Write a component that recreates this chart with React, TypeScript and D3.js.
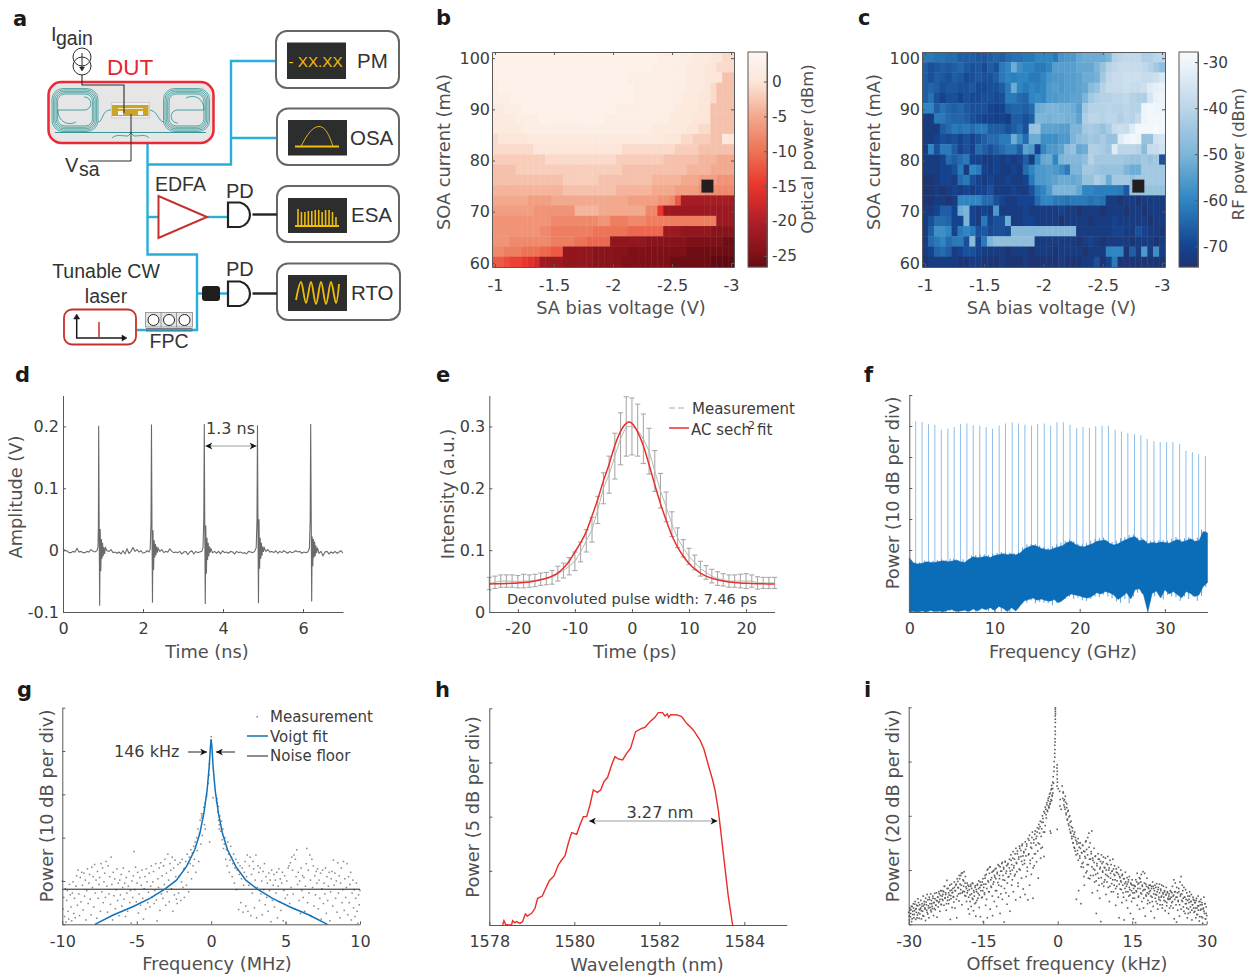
import React, { useEffect, useRef } from 'react';
import * as d3 from 'd3';

const WIDTH = 1251;
const HEIGHT = 976;
const FONT = '"DejaVu Sans", sans-serif';
const SCHEMATIC_FONT = '"Liberation Sans", Arial, sans-serif';

// panels b, c: rows run from 100 mA (top) down to 60 mA, columns from -1 V to -3 V
const saBias = [-1, -1.5, -2, -2.5, -3];
const soaCurrent = [60, 70, 80, 90, 100];
const opticalTicks = [0, -5, -10, -15, -20, -25];
const rfTicks = [-30, -40, -50, -60, -70];
const opticalStops = [4.24, 0, -5, -10, -15, -20, -25, -26.6];
const opticalColors = ['#fdf6f0', '#fce6da', '#f2a98d', '#ed7355', '#e9352c', '#b01f28', '#7e1018', '#640b12'];
const rfStops = [-27.8, -30, -40, -50, -60, -70, -74.5];
const rfColors = ['#f6fafc', '#eef5fa', '#bcd5e8', '#7db5d8', '#2f86c3', '#15438f', '#1f3370'];

const opticalPower = [
  [3,3,3,3,3,3,3,3,3,3,3,3,3,3,3,3,3,3,3,3,3,3,3,3,3,3,3,3,2,2,2,2,2,2,1,1,1,0,0,-1,-1],
  [3,3,3,3,3,3,3,3,3,3,3,3,3,3,3,3,3,3,3,3,3,3,3,3,3,3,3,2,2,2,2,2,2,1,1,1,0,0,-1,-1,-1],
  [3,3,3,3,3,3,3,3,3,3,3,3,3,3,3,3,3,3,3,3,3,3,3,2,2,2,2,2,2,2,2,2,2,1,1,1,0,0,0,-3,-3],
  [2,3,3,3,3,3,3,3,3,3,3,3,3,3,3,3,3,3,3,3,3,3,3,3,2,2,2,2,2,2,2,2,2,1,1,1,0,-1,-3,-3,-3],
  [2,2,2,3,3,3,3,3,3,3,3,3,3,3,3,3,3,3,3,3,3,3,3,3,2,2,2,2,2,2,2,2,1,1,1,0,0,-1,-3,-3,-3],
  [1,1,2,2,2,3,3,3,3,3,3,3,3,3,3,3,3,3,3,3,3,2,2,2,2,2,2,2,2,2,2,1,1,1,1,0,0,-3,-3,-3,-3],
  [1,1,1,1,2,2,2,2,3,3,3,3,3,3,3,3,3,3,3,2,2,2,2,2,2,2,2,2,2,2,1,1,1,1,0,0,0,-3,-3,-3,-3],
  [1,1,1,1,1,2,2,2,2,2,2,2,2,2,2,2,2,2,2,2,2,2,2,2,2,2,2,1,1,1,1,1,1,0,0,-1,-1,-3,-3,-3,-3],
  [-1,0,0,0,0,0,1,1,1,1,1,1,1,1,1,1,1,1,1,1,1,1,1,1,1,1,1,1,1,0,0,0,-1,-1,-2,-2,-2,-3,-3,1,0],
  [-1,-1,-1,-1,-1,-1,-1,0,0,0,0,0,0,0,0,0,0,0,0,0,0,0,-1,-1,-1,-1,-1,-1,-1,-1,-1,-2,-2,-2,-2,-3,-3,-3,-3,-3,-3],
  [-2,-2,-2,-2,-2,-2,-2,-2,-2,-1,-1,-1,-1,-1,-1,-1,-1,-1,-1,-1,-1,-2,-2,-2,-2,-2,-2,-2,-2,-3,-3,-3,-3,-3,-3,-4,-4,-4,-5,-5,-5],
  [-3,-3,-3,-3,-2,-2,-2,-2,-2,-2,-2,-2,-2,-2,-2,-2,-2,-2,-2,-2,-2,-2,-3,-3,-3,-3,-3,-3,-3,-3,-3,-3,-3,-4,-4,-4,-4,-5,-5,-5,-5],
  [-3,-3,-3,-3,-3,-3,-3,-3,-3,-3,-3,-3,-2,-2,-2,-2,-2,-2,-3,-3,-3,-3,-3,-3,-3,-3,-3,-4,-4,-4,-4,-4,-5,-5,-5,-6,-6,-6,-7,-7,-7],
  [-4,-4,-4,-4,-4,-4,-4,-4,-4,-4,-4,-4,-3,-3,-3,-3,-3,-3,-3,-3,-3,-4,-4,-4,-4,-4,-4,-5,-5,-5,-5,-6,-6,-6,-6,-7,-8,-8,-8,-8,-8],
  [-5,-5,-5,-5,-5,-5,-6,-6,-6,-6,-5,-5,-5,-5,-5,-5,-5,-5,-5,-5,-5,-5,-5,-6,-6,-6,-6,-6,-7,-7,-8,-12,-21,-21,-21,-21,-21,-21,-21,-21,-21],
  [-6,-6,-6,-6,-6,-6,-6,-7,-7,-7,-7,-7,-7,-7,-4,-4,-4,-4,-5,-5,-5,-5,-5,-5,-5,-5,-8,-8,-15,-22,-22,-22,-22,-22,-22,-22,-22,-22,-22,-22,-22],
  [-7,-7,-7,-7,-7,-7,-7,-7,-7,-7,-8,-8,-8,-8,-8,-8,-8,-8,-7,-7,-9,-9,-9,-8,-8,-8,-9,-9,-9,-9,-9,-9,-9,-9,-9,-9,-9,-9,-22,-22,-22],
  [-7,-7,-7,-7,-7,-7,-7,-7,-8,-8,-9,-9,-9,-9,-9,-9,-9,-10,-10,-10,-10,-10,-10,-11,-11,-11,-11,-11,-11,-22,-22,-22,-23,-23,-23,-23,-23,-24,-24,-24,-24],
  [-7,-7,-7,-8,-8,-8,-8,-8,-8,-8,-9,-9,-9,-9,-10,-10,-11,-11,-11,-11,-23,-23,-23,-23,-23,-23,-24,-24,-24,-24,-24,-24,-24,-25,-25,-25,-25,-25,-25,-26,-26],
  [-8,-8,-9,-9,-9,-10,-10,-10,-11,-11,-12,-12,-23,-23,-23,-23,-23,-24,-24,-24,-24,-24,-24,-25,-25,-25,-25,-25,-25,-25,-25,-25,-25,-26,-26,-26,-26,-26,-26,-26,-26],
  [-12,-12,-13,-14,-14,-15,-16,-17,-22,-22,-22,-22,-23,-23,-23,-23,-23,-24,-24,-24,-24,-24,-25,-25,-25,-25,-25,-25,-25,-25,-26,-26,-26,-26,-26,-26,-26,-27,-27,-27,-27],
];

const rfPower = [
  [-62,-62,-63,-63,-64,-64,-66,-66,-66,-67,-67,-66,-65,-66,-64,-63,-63,-62,-62,-60,-60,-60,-62,-57,-56,-56,-53,-52,-52,-52,-52,-50,-41,-40,-39,-39,-39,-42,-42,-40,-40],
  [-66,-68,-67,-66,-67,-66,-65,-67,-68,-67,-69,-66,-68,-62,-60,-52,-58,-60,-60,-62,-62,-60,-55,-55,-55,-55,-53,-53,-53,-50,-46,-41,-39,-38,-38,-38,-38,-39,-41,-44,-47],
  [-66,-68,-66,-67,-68,-66,-67,-69,-68,-67,-68,-68,-66,-62,-60,-61,-60,-60,-62,-62,-60,-57,-56,-56,-55,-55,-54,-52,-52,-51,-44,-39,-38,-38,-37,-37,-37,-38,-38,-37,-34],
  [-66,-65,-66,-68,-67,-67,-68,-68,-67,-69,-69,-68,-68,-66,-62,-52,-60,-62,-60,-61,-60,-56,-55,-56,-55,-55,-54,-53,-48,-46,-41,-38,-38,-38,-37,-38,-38,-37,-33,-32,-31],
  [-66,-63,-68,-70,-68,-68,-70,-68,-69,-69,-68,-68,-69,-68,-62,-62,-64,-65,-60,-59,-60,-56,-56,-55,-55,-54,-54,-50,-44,-42,-41,-41,-40,-40,-39,-41,-42,-42,-35,-31,-30],
  [-60,-60,-66,-63,-65,-66,-65,-67,-68,-68,-68,-70,-71,-70,-66,-65,-65,-66,-64,-52,-51,-50,-50,-51,-51,-52,-55,-44,-41,-41,-41,-40,-41,-41,-40,-41,-41,-30,-29,-30,-30],
  [-71,-72,-62,-62,-64,-65,-65,-66,-68,-69,-70,-70,-71,-70,-72,-66,-66,-68,-66,-50,-50,-51,-50,-50,-51,-51,-54,-42,-40,-40,-41,-40,-40,-42,-40,-41,-38,-30,-29,-29,-29],
  [-72,-72,-72,-66,-64,-62,-63,-62,-64,-62,-62,-66,-66,-66,-68,-66,-64,-68,-46,-45,-54,-54,-54,-55,-55,-50,-50,-44,-43,-44,-46,-43,-38,-37,-38,-33,-29,-29,-29,-28,-29],
  [-72,-72,-70,-68,-69,-68,-70,-68,-70,-68,-66,-64,-64,-62,-62,-52,-58,-64,-52,-52,-58,-58,-58,-56,-56,-50,-47,-46,-44,-45,-43,-46,-46,-33,-30,-29,-30,-46,-46,-36,-35],
  [-72,-60,-68,-62,-62,-66,-70,-68,-70,-64,-66,-68,-66,-64,-62,-62,-66,-54,-56,-70,-60,-56,-56,-54,-48,-46,-53,-52,-42,-42,-43,-45,-33,-40,-40,-40,-41,-48,-38,-38,-36],
  [-72,-72,-72,-70,-64,-66,-64,-62,-70,-70,-72,-72,-70,-72,-70,-72,-70,-66,-72,-60,-53,-52,-60,-50,-49,-49,-49,-47,-41,-44,-44,-44,-44,-44,-45,-46,-46,-44,-46,-44,-68],
  [-72,-72,-72,-70,-70,-68,-62,-72,-60,-62,-70,-72,-70,-72,-72,-70,-72,-64,-60,-56,-56,-55,-56,-58,-62,-50,-50,-44,-44,-45,-46,-46,-46,-46,-50,-52,-52,-44,-44,-44,-44],
  [-74,-74,-72,-70,-70,-72,-64,-62,-68,-70,-72,-70,-72,-72,-70,-72,-72,-70,-62,-56,-56,-55,-54,-52,-52,-53,-52,-46,-46,-42,-44,-52,-44,-44,-44,-46,-44,-44,-44,-44,-44],
  [-74,-74,-72,-74,-72,-70,-72,-70,-72,-70,-70,-68,-72,-72,-72,-70,-72,-72,-68,-62,-60,-56,-50,-50,-50,-50,-53,-60,-60,-61,-61,-61,-61,-62,-67,-46,-46,-46,-46,-46,-46],
  [-74,-74,-72,-72,-74,-72,-60,-60,-60,-60,-64,-64,-68,-70,-72,-72,-70,-70,-70,-64,-60,-60,-62,-62,-63,-62,-62,-62,-63,-62,-63,-72,-72,-74,-72,-72,-74,-72,-72,-72,-72],
  [-72,-72,-70,-66,-66,-70,-52,-50,-70,-72,-70,-72,-56,-72,-72,-72,-72,-70,-72,-72,-72,-72,-72,-70,-72,-72,-74,-72,-72,-72,-74,-72,-72,-72,-74,-72,-72,-74,-72,-72,-72],
  [-72,-68,-64,-64,-65,-70,-70,-50,-70,-72,-62,-70,-68,-68,-52,-72,-72,-70,-70,-72,-72,-72,-72,-74,-72,-72,-72,-72,-74,-72,-72,-72,-70,-72,-72,-72,-72,-72,-74,-72,-72],
  [-72,-66,-58,-58,-60,-70,-62,-60,-62,-68,-67,-69,-68,-68,-69,-49,-49,-49,-49,-49,-49,-49,-49,-49,-49,-49,-72,-72,-72,-72,-72,-72,-70,-70,-72,-72,-68,-70,-72,-72,-74],
  [-72,-64,-62,-60,-64,-62,-62,-68,-48,-70,-62,-50,-47,-47,-47,-47,-47,-47,-47,-72,-72,-72,-72,-72,-72,-72,-74,-72,-70,-72,-74,-72,-72,-72,-72,-74,-72,-72,-72,-74,-72],
  [-72,-70,-65,-64,-66,-72,-70,-68,-68,-70,-72,-72,-72,-72,-74,-72,-72,-72,-74,-72,-72,-72,-74,-72,-72,-72,-72,-74,-72,-72,-72,-60,-60,-60,-74,-66,-72,-56,-72,-58,-72],
  [-74,-72,-72,-72,-72,-72,-74,-74,-72,-72,-74,-74,-74,-72,-74,-74,-74,-72,-74,-74,-74,-74,-74,-72,-74,-74,-74,-72,-72,-68,-74,-70,-62,-74,-74,-74,-74,-74,-74,-74,-74],
];

// panel d: oscilloscope trace [ns, V]
const scopeTrace = [
  [0,.003],[.05,-.001],[.1,-.001],[.15,-.004],[.2,-.004],[.25,-.002],[.3,-.003],[.35,.003],[.4,-.003],[.45,-.002],[.5,-.004],[.55,-.004],[.6,-.002],[.65,-.003],[.7,.001],[.75,-.002],[.8,-.003],[.85,-.001],
  [.875,.006],[.885,.04],[.892,.201],[.905,.03],[.917,-.09],[.93,.034],[.945,-.034],[.96,.018],[.975,-.014],[.99,.012],[1.005,-.01],[1.02,.005],[1.04,-.006],[1.06,.004],
  [1.1,-.001],[1.15,-.002],[1.2,.001],[1.25,-.004],[1.3,-.003],[1.35,-.005],[1.4,-.003],[1.45,-.006],[1.5,-.001],[1.55,-.006],[1.6,.002],[1.65,-.005],[1.7,-.002],[1.75,.004],[1.8,-.002],[1.85,.001],[1.9,-.003],[1.95,-.001],[2.0,-.005],[2.05,-.004],[2.1,-.001],[2.15,-.003],[2.18,.002],
  [2.2,.045],[2.212,.203],[2.225,.03],[2.237,-.085],[2.25,.032],[2.265,-.032],[2.28,.016],[2.295,-.012],[2.31,.01],[2.325,-.008],[2.34,.006],[2.36,-.004],[2.38,.003],
  [2.42,-.002],[2.47,.001],[2.52,-.004],[2.57,-.002],[2.62,-.003],[2.67,.002],[2.72,-.002],[2.77,-.004],[2.82,-.003],[2.87,-.004],[2.92,-.002],[2.97,-.006],[3.02,-.003],[3.07,-.002],[3.12,-.007],[3.17,-.003],[3.22,-.001],[3.27,-.006],[3.32,-.002],[3.37,-.004],[3.42,-.003],[3.47,-.002],[3.5,.004],
  [3.52,.05],[3.532,.204],[3.545,.03],[3.557,-.087],[3.57,.04],[3.585,-.038],[3.6,.02],[3.615,-.016],[3.63,.012],[3.645,-.01],[3.66,.006],[3.68,-.004],[3.7,.002],
  [3.74,-.004],[3.79,-.002],[3.84,-.005],[3.89,-.002],[3.94,-.006],[3.99,-.001],[4.04,-.004],[4.09,-.003],[4.14,-.005],[4.19,-.002],[4.24,-.003],[4.29,-.006],[4.34,-.002],[4.39,-.004],[4.44,-.003],[4.49,-.005],[4.54,-.004],[4.59,-.006],[4.64,-.002],[4.69,-.003],[4.74,-.004],[4.79,-.002],[4.83,.004],
  [4.85,.05],[4.862,.202],[4.875,.03],[4.887,-.086],[4.9,.05],[4.915,-.03],[4.93,.02],[4.945,-.014],[4.96,.012],[4.975,-.009],[4.99,.006],[5.01,-.003],[5.03,.004],
  [5.07,-.002],[5.12,.001],[5.17,-.003],[5.22,-.002],[5.27,-.004],[5.32,-.001],[5.37,-.005],[5.42,-.002],[5.47,-.004],[5.52,-.001],[5.57,-.003],[5.62,-.005],[5.67,-.002],[5.72,-.004],[5.77,-.003],[5.82,-.001],[5.87,-.003],[5.92,-.002],[5.97,-.005],[6.02,-.003],[6.07,-.004],[6.12,-.003],[6.16,.003],
  [6.18,.05],[6.192,.204],[6.205,.06],[6.217,-.083],[6.23,.022],[6.245,-.026],[6.26,.018],[6.275,-.012],[6.29,.014],[6.305,-.01],[6.32,.008],[6.34,-.005],[6.36,.004],
  [6.4,-.005],[6.45,-.002],[6.5,-.009],[6.55,-.003],[6.6,-.002],[6.65,-.006],[6.7,-.003],[6.75,-.005],[6.8,-.002],[6.85,-.005],[6.9,-.003],[6.95,-.001],[7,-.005],
];

// panel e: autocorrelation, one value per ps from -25 to 25
const acDelay = [-25,-24,-23,-22,-21,-20,-19,-18,-17,-16,-15,-14,-13,-12,-11,-10,-9,-8,-7,-6,-5,-4,-3,-2,-1,0,1,2,3,4,5,6,7,8,9,10,11,12,13,14,15,16,17,18,19,20,21,22,23,24,25];
const acMean = [.046,.048,.05,.05,.05,.049,.05,.05,.051,.053,.054,.056,.062,.067,.074,.082,.097,.115,.133,.165,.2,.222,.252,.28,.3,.3,.294,.28,.26,.228,.196,.17,.142,.12,.103,.09,.08,.07,.064,.058,.054,.052,.05,.05,.05,.05,.05,.047,.047,.047,.047];
const acError = [.01,.01,.01,.01,.01,.01,.011,.01,.01,.01,.01,.011,.012,.012,.014,.015,.016,.018,.02,.022,.025,.03,.037,.042,.048,.046,.042,.04,.037,.033,.028,.024,.02,.016,.014,.013,.012,.012,.011,.011,.011,.01,.01,.01,.011,.012,.01,.01,.009,.009,.009];
const fitDelay = [-25,-24,-23,-22,-21,-20,-19,-18,-17,-16,-15,-14,-13,-12,-11,-10,-9,-8,-7,-6,-5,-4,-3,-2,-1,-.5,0,1,2,3,4,5,6,7,8,9,10,11,12,13,14,15,16,17,18,19,20,21,22,23,24,25];
const fitIntensity = [.0454,.0455,.0457,.046,.0464,.0469,.0476,.0486,.05,.052,.0546,.0581,.063,.071,.082,.097,.112,.13,.155,.182,.212,.239,.269,.292,.305,.307,.305,.2913,.2688,.2381,.2056,.1752,.1482,.1236,.1047,.0901,.0785,.0696,.063,.0581,.0546,.052,.05,.0486,.0476,.0469,.0464,.046,.0457,.0455,.0454,.0453];

// panel f: RF comb lines and the noise band, in divisions
const combFreq = [.75,1.5,2.26,3.0,3.75,4.53,5.27,6.02,6.76,7.5,8.27,9.02,9.76,10.55,11.29,12.08,12.82,13.57,14.35,15.06,15.84,16.59,17.33,18.08,18.86,19.65,20.39,21.14,21.88,22.63,23.37,24.16,24.9,25.65,26.43,27.18,27.92,28.71,29.45,30.2,30.94,31.73,32.47,33.22,33.96,34.75];
const combPeak = [6.15,6.13,6.06,6.04,5.88,5.91,5.97,6.06,6.08,6.02,6.01,5.96,5.91,6.01,6.08,6.11,6.08,6.04,6.01,6.06,6.08,6.01,6.12,6.12,6.04,5.94,5.97,5.94,5.99,6.01,6.01,5.88,5.82,5.77,5.74,5.70,5.58,5.51,5.48,5.48,5.48,5.42,5.2,5.16,5.09,5.03];
const noiseFreq = [0,.5,1,1.5,2,2.5,3,3.5,4,4.5,5,5.5,6,6.5,7,7.5,8,8.5,9,9.5,10,10.5,11,11.5,12,12.5,13,13.5,14,14.5,15,15.5,16,16.5,17,17.5,18,18.5,19,19.5,20,20.5,21,21.5,22,22.5,23,23.5,24,24.5,25,25.5,26,26.5,27,27.5,28,28.5,29,29.5,30,30.5,31,31.5,32,32.5,33,33.5,34,34.5,35];
const noiseUpper = [1.75,1.58,1.55,1.57,1.62,1.6,1.6,1.63,1.65,1.62,1.64,1.68,1.62,1.6,1.7,1.78,1.75,1.77,1.8,1.76,1.82,1.85,1.88,1.85,1.87,1.84,1.9,2.03,2.1,2.15,2.12,2.05,2.02,2.0,2.06,2.1,2.14,2.24,2.28,2.18,2.12,2.1,2.15,2.2,2.28,2.3,2.32,2.22,2.16,2.2,2.28,2.34,2.4,2.43,2.3,2.33,2.2,2.24,2.22,2.26,2.24,2.22,2.28,2.34,2.26,2.3,2.36,2.28,2.3,2.6,2.55];
const noiseLower = [.02,.02,0,.03,0,.05,.02,.03,.01,.06,.08,.02,.03,.06,.02,.1,.03,.12,.07,.14,.06,.18,.12,.02,.14,.03,.2,.36,.4,.45,.38,.42,.37,.35,.4,.3,.38,.5,.58,.55,.52,.47,.45,.52,.62,.58,.66,.62,.55,.4,.5,.62,.42,.72,.75,.55,0,.6,.68,.45,.72,.58,.66,.55,.46,.66,.6,.5,.55,.82,.95];
const spurFreq = [.2,.7,1.2,1.8,2.3,2.8,3.3,3.8,4.3,4.8,5.2,5.8,6.3,6.8,7.3,7.8,8.3,8.8,9.3,9.8,10.3,10.8,11.3,11.8,12.3,12.8,13.3,13.8,14.3,14.8,15.3,15.8,16.3,16.8,17.3,17.8,18.3,18.8,19.3,19.8,20.3,20.8,21.3,21.8,22.3,22.8,23.3,23.8,24.3,24.8,25.3,25.8,26.3,26.8,27.3,27.8,28.3,28.8,29.3,29.8,30.3,30.8,31.3,31.8,32.3,32.8,33.3,33.8,34.3,34.8];
const spurLow = [0,0,.02,0,.02,0,0,.01,0,.03,.02,0,.06,0,.08,.01,.05,.1,.02,.06,.12,.02,.08,0,.1,.12,.28,.3,.38,.28,.32,.3,.28,.22,.3,.33,.42,.5,.42,.46,.38,.36,.42,.5,.48,.56,.5,.44,.34,.3,.42,.28,.5,.62,.6,.4,.35,.5,.55,.4,.55,.5,.48,.36,.5,.42,.5,.36,.52,.8];
const spurHigh = [1.66,1.6,1.6,1.66,1.64,1.65,1.68,1.7,1.68,1.72,1.72,1.66,1.7,1.66,1.82,1.84,1.86,1.86,1.84,1.88,1.9,1.94,1.92,1.92,1.9,1.94,2.08,2.18,2.2,2.2,2.14,2.1,2.06,2.12,2.18,2.24,2.3,2.34,2.28,2.2,2.18,2.22,2.3,2.36,2.38,2.4,2.3,2.26,2.3,2.38,2.42,2.48,2.5,2.4,2.4,2.3,2.3,2.3,2.32,2.32,2.3,2.36,2.42,2.34,2.38,2.42,2.36,2.4,2.66,2.6];

// panel g: beat note, evenly sampled either side of the peak
const beatLeft = [
  1.0,.35,.62,.18,.82,.05,.55,.78,.3,.12,.92,.68,.4,.08,.72,.98,.25,.6,.15,.88,
  1.12,.44,1.25,.7,.2,1.08,.52,1.2,.9,.33,1.18,.65,1.02,.1,.78,1.28,.48,.95,1.15,.58,
  .22,1.32,.85,1.1,.4,1.38,.72,1.02,.14,1.22,.6,.92,1.08,.3,1.4,.75,1.3,.5,.98,1.18,
  .62,1.45,.88,.28,1.35,.7,1.1,.46,1.55,.92,.1,1.2,.66,1.05,.36,.8,1.28,.55,.95,.2,
  1.02,.68,1.15,.42,.85,1.3,.58,.95,.18,1.08,.72,.3,.88,1.22,.5,.78,.03,1.0,.62,1.12,
  1.68,.8,1.32,.52,.95,1.2,.26,.7,1.08,.44,.9,1.25,.6,.12,.82,1.1,.35,1.28,.98,.5,
  .74,1.18,.4,.88,1.35,.62,.98,1.22,.48,.78,1.4,.56,.08,1.05,.85,1.3,.32,1.42,.7,1.12,
  .6,1.35,.92,1.5,.44,1.18,.75,1.62,1.02,.52,1.4,1.25,.82,1.55,.3,1.3,.68,1.48,1.1,.58,
  .48,1.38,.72,1.12,1.42,.55,.98,1.5,.85,1.28,.62,1.3,1.45,.9,1.62,1.2,.75,1.55,1.4,1.72,
  1.05,1.65,1.35,1.8,1.5,1.9,1.2,2.0,1.7,2.2,1.45,2.1,2.4,1.85,2.45,2.05,2.55,2.7,2.3,2.8,
];
const beatRight = [
  2.9,2.6,2.72,2.3,2.5,2.15,2.38,1.95,2.2,1.75,1.85,2.0,1.5,1.72,1.35,1.9,1.62,1.2,1.48,1.8,
  1.55,1.1,1.4,1.62,.95,1.3,1.5,.8,1.25,1.42,.34,1.15,1.35,.5,1.05,1.3,.28,.9,1.2,1.45,
  .42,1.1,1.6,.3,.9,1.35,1.55,.2,1.15,.72,1.45,1.28,.38,1.02,1.6,.15,.85,1.35,1.2,.55,
  1.3,.7,1.0,.22,1.22,.8,1.4,.45,1.1,.62,.95,.3,1.18,.78,1.02,.06,1.25,.55,.9,1.15,
  .4,1.02,.72,1.2,.15,.88,1.28,.52,1.05,.32,.95,1.2,.08,.78,1.12,.6,.02,1.0,.68,1.3,
  1.35,.48,1.42,.85,1.55,1.25,.7,1.6,.35,1.5,1.1,1.72,.92,1.2,.55,1.0,.25,1.3,.78,1.12,
  .62,1.08,.3,.88,1.4,1.75,.5,1.25,.72,1.6,1.02,.18,1.5,.85,1.35,.42,1.12,.68,1.22,.95,
  1.28,.36,1.02,.6,1.18,.12,.82,1.25,.48,.95,.7,1.3,.25,1.1,.55,.88,1.2,.08,.75,1.05,
  1.22,.42,1.48,.9,1.18,.6,1.0,.28,1.42,.72,1.12,.15,.95,1.3,.5,.8,1.45,.32,1.05,.62,
  .85,1.4,.22,1.1,.5,.92,1.2,.1,.72,1.02,.38,.8,.18,.6,.95,.3,.02,.68,.45,.78,
];
const beatCore = [[0,4.33],[-.02,4.25],[-.03,4.12],[-.12,3.7],[-.13,3.45],[-.2,3.25],[-.3,3.0],[-.3,2.95],[-.65,2.55],[-.62,2.5],[-.4,2.2],[-.1,1.9],[.13,2.92],[.35,2.85],[.42,2.8],[.5,2.4],[.55,2.2]];
const voigtFreq = [-7.81,-6.58,-5.23,-4.12,-3.11,-2.33,-1.66,-1.1,-.76,-.49,-.27,-.13,-.05,0,.05,.13,.27,.49,.76,1.1,1.66,2.33,3.11,4.12,5.23,6.58,7.81];
const voigtPower = [0,.215,.41,.6,.81,1.02,1.33,1.72,2.1,2.56,3.1,3.64,4.1,4.27,4.1,3.64,3.1,2.56,2.1,1.72,1.33,1.02,.81,.6,.41,.215,0];
const noiseFloor = .81;

// panel h: optical spectrum
const specWave = [.314,.345,.384,.447,.525,.549,.596,.643,.722,.784,.847,.894,.996,1.075,1.137,1.247,1.31,1.412,1.522,1.624,1.702,1.78,1.859,1.937,2.055,2.133,2.212,2.29,2.369,2.447,2.541,2.62,2.698,2.784,2.878,2.957,3.035,3.137,3.231,3.325,3.443,3.584,3.663,3.78,3.898,3.976,4.078,4.133,4.188,4.22,4.267,4.424,4.525,4.643,4.8,4.957,5.051,5.153,5.255,5.31,5.388,5.443,5.506,5.569,5.624,5.678,5.725].map(d => 1578 + d);
const specPower = [0,.08,.012,0,.006,.08,.043,.062,.03,.062,.203,.166,.215,.308,.492,.535,.646,.818,.905,1.108,1.2,1.274,1.508,1.705,1.674,1.846,2.0,2.0,2.215,2.492,2.449,2.492,2.646,2.726,2.954,3.108,3.065,3.046,3.169,3.262,3.569,3.631,3.649,3.754,3.834,3.92,3.92,3.858,3.895,3.834,3.883,3.877,3.846,3.723,3.6,3.415,3.243,2.954,2.677,2.492,2.123,1.754,1.323,.892,.523,.246,0];

// panel i: linewidth measurement, two evenly sampled sweeps either side of the peak
const lineLeft = [
  .22,.08,.30,.14,.27,.05,.33,.18,.38,.12,.25,.42,.09,.29,.35,.17,.47,.21,.11,.36,
  .28,.44,.10,.33,.24,.52,.15,.37,.30,.07,.41,.26,.55,.19,.34,.12,.46,.31,.56,.23,
  .38,.29,.48,.16,.40,.57,.27,.35,.44,.13,.50,.32,.60,.42,.24,.53,.37,.62,.46,.55,
  .61,.35,.70,.49,.58,.26,.81,.44,.66,.38,.54,.72,.09,.47,.63,.31,.59,.51,.41,.68,
  .30,.62,.74,.12,.52,.79,.67,.43,.84,.57,.90,.72,.36,.95,.61,.80,.97,.53,.88,.69,
  .42,.76,.62,.28,.70,.19,.54,.73,.33,.66,.48,.75,.25,.59,.38,.71,.15,.64,.44,.74,
  .57,.80,.31,.68,.14,.72,.49,.78,.62,.05,.74,.55,.85,.35,.92,.66,.12,1.02,.78,.60,
  1.05,.28,.82,.68,.96,.16,.74,.99,.42,.87,.62,1.03,.33,.93,.77,.50,1.08,.84,.20,.98,
  .70,1.12,.46,.90,1.05,.04,.81,1.15,.58,.98,.37,1.10,.87,.52,1.04,.24,.93,1.18,.72,1.00,
  1.22,.60,1.08,.89,1.30,.45,1.14,.97,1.35,.76,1.20,1.02,1.40,.50,1.25,.85,1.45,1.10,.65,1.32,
  1.18,.55,1.38,.88,1.48,1.05,.45,1.28,1.55,.72,1.12,1.42,.92,1.60,1.22,.48,1.50,1.08,1.66,1.30,
  1.58,1.15,1.70,1.35,.85,1.76,1.48,1.80,1.22,1.62,1.88,1.42,1.95,1.70,1.25,2.05,1.82,2.12,1.96,2.2,2.08,2.28,2.15,2.35,2.22,2.42,2.3,2.5,2.38,2.62,
];
const lineRight = [
  2.55,2.32,2.44,2.2,2.3,2.12,2.25,2.02,2.15,1.92,2.08,1.85,1.98,1.75,1.88,1.68,1.8,1.58,1.72,1.5,1.62,1.42,1.7,1.35,1.55,
  .46,1.48,1.3,1.58,.62,1.42,1.22,1.5,.38,1.32,1.12,1.45,1.05,1.35,.72,1.25,1.52,.95,1.38,1.1,1.6,.85,1.68,1.2,
  1.5,.9,1.3,1.72,.58,1.18,1.02,1.4,.78,1.25,.92,.2,1.12,.62,1.3,.85,1.2,.48,1.05,.05,1.28,.75,.98,1.15,
  .7,1.05,.82,1.22,.55,1.12,.9,1.25,.68,1.0,.42,1.18,.85,1.1,.75,.98,1.2,.6,.92,1.08,
  .82,.35,1.02,.7,.95,.5,1.05,.12,.88,.65,1.0,.78,.4,.92,.58,.84,.08,.75,.96,.6,
  .7,.86,.3,.78,.52,.88,.64,.2,.74,.42,.82,.58,.1,.72,.48,.7,.03,.62,.78,.35,
  .66,.5,.76,.28,.84,.58,.92,.42,.7,.97,.3,.64,.94,.15,.74,.52,.85,.38,.68,.56,
  .72,.4,.62,.24,.7,.5,.78,.33,.66,.12,.72,.55,.42,.75,.6,.28,.68,.46,.74,.36,
  .65,.5,.72,.3,.58,.7,.44,.62,.25,.55,.68,.4,.6,.48,.2,.56,.46,.62,.34,.5,
  .58,.42,.3,.54,.1,.46,.6,.36,.04,.5,.26,.42,.66,.15,.78,.55,.88,.44,.72,.62,
  .32,.68,.5,.2,.64,.38,.58,.12,.52,.28,.46,.6,.22,.42,.55,.08,.36,.5,.3,.44,
  .24,.4,.12,.48,.3,.18,.52,.34,.06,.42,.26,.46,.14,.36,.02,.28,.5,.2,.38,.1,.32,.16,
];
const lineLeftB = [
  .15,.26,.2,.33,.1,.24,.3,.18,.37,.28,.22,.12,.34,.4,.27,.19,.3,.25,.38,.16,
  .34,.42,.28,.48,.36,.22,.45,.3,.5,.38,.26,.44,.33,.52,.4,.29,.47,.35,.58,.43,
  .5,.4,.56,.46,.62,.36,.52,.44,.6,.7,.48,.55,.38,.66,.5,.58,.45,.62,.53,.74,
  .58,.66,.5,.78,.62,.72,.46,.84,.68,.56,.9,.74,.64,.94,.58,.82,.7,.6,.76,.52,
  .66,.58,.72,.5,.64,.42,.7,.56,.76,.46,.62,.52,.68,.4,.6,.72,.48,.66,.54,.78,
  .62,.72,.5,.84,.68,.58,.9,.74,.46,1.0,.8,.6,.94,1.06,.7,.86,.52,.98,.78,.9,
  1.02,.84,.62,.96,1.1,.72,.9,1.06,.56,.98,1.14,.82,1.02,.66,1.16,.94,1.08,.76,1.12,.88,
  1.2,.98,1.28,1.1,.82,1.34,1.04,1.2,.92,1.4,1.12,1.3,.7,1.24,1.44,1.0,1.36,1.16,1.48,1.26,
  1.34,1.12,1.52,1.26,1.44,.98,1.58,1.3,1.64,1.18,1.5,1.4,1.7,1.04,1.56,1.3,1.72,1.46,1.62,1.78,
  1.5,1.84,1.68,1.9,1.4,1.76,2.0,1.88,2.08,1.7,2.16,2.02,2.24,2.1,2.32,2.18,2.4,2.26,2.48,2.56,
];
const lineRightB = [
  2.42,2.28,2.16,2.36,2.05,2.22,1.94,2.1,1.82,2.0,1.7,1.9,1.62,1.78,1.5,1.66,1.4,1.6,1.28,1.52,
  1.36,1.18,1.5,1.26,1.4,1.06,1.32,1.46,1.14,.88,1.34,1.22,1.54,.98,1.28,1.1,1.42,.84,1.2,1.34,
  1.06,1.22,.9,1.14,1.0,1.26,.8,1.08,.94,1.2,.72,1.02,1.16,.86,1.12,.96,1.24,.78,1.04,.92,
  1.0,.78,1.1,.88,1.04,.7,.94,.6,.98,.82,1.02,.72,.9,.66,.96,.8,.56,.92,.74,.86,
  .8,.64,.9,.72,.5,.84,.66,.78,.44,.74,.6,.82,.68,.54,.76,.62,.72,.48,.66,.58,
  .7,.82,.6,.94,.74,.52,.86,.66,.78,.56,.72,.62,.48,.76,.64,.54,.7,.58,.44,.66,
  .6,.72,.52,.66,.42,.7,.56,.62,.48,.68,.54,.38,.64,.5,.58,.44,.62,.52,.36,.56,
  .5,.6,.42,.54,.34,.58,.46,.52,.3,.48,.6,.4,.7,.52,.82,.6,.76,.5,.68,.58,
  .44,.6,.36,.52,.28,.56,.42,.48,.24,.5,.38,.46,.3,.44,.2,.4,.52,.32,.42,.26,
  .36,.46,.22,.4,.3,.44,.18,.34,.26,.42,.14,.36,.28,.4,.12,.3,.24,.38,.1,.2,
];
const lineCore = [[-.47,3.99],[-.48,3.96],[-.47,3.92],[-.45,3.88],[-.5,3.84],[-.48,3.78],[-.47,3.72],[-.52,3.64],[-.5,3.56],[-.48,3.5],[-.55,3.42],[-.52,3.36],[-.6,3.3],[-.55,3.22],[-.6,3.15],[-.58,3.08],[-.7,3.0],[-.72,2.9],[-.75,2.82],[-.1,2.94],[-.15,2.88],[-.08,2.82],[-.12,2.76],[-.1,2.68],[-.05,2.62],[-.13,2.55],[-.9,2.72],[-.85,2.6],[-1,2.5],[-.95,2.42],[-1.1,2.36],[-1.2,2.28],[-1.5,2.22],[-1.7,2.15],[.1,2.5],[.4,2.45],[.5,2.3],[.45,2.18],[.7,2.12],[-.1,1.75],[-1.5,1.72],[-1.4,1.68]];

const THEME = { axis: '#595959', tick: '#3c3c3c', label: '#505050' };
const LABEL_SIZE = 17.8;

type Sel = d3.Selection<any, any, any, any>;

const addText = (g: Sel, x: number, y: number, text: string, size: number, opts: any = {}) =>
  g.append('text')
    .attr('x', x)
    .attr('y', y)
    .attr('font-family', opts.font || FONT)
    .attr('font-size', size)
    .attr('font-weight', opts.weight || 'normal')
    .attr('text-anchor', opts.anchor || 'start')
    .attr('fill', opts.fill || THEME.tick)
    .text(text);

const addVerticalLabel = (g: Sel, x: number, y: number, text: string, size = LABEL_SIZE) =>
  g.append('text')
    .attr('transform', `translate(${x},${y}) rotate(-90)`)
    .attr('font-family', FONT)
    .attr('font-size', size)
    .attr('text-anchor', 'middle')
    .attr('fill', THEME.label)
    .text(text);

const addBottomLabel = (g: Sel, x: number, y: number, text: string) =>
  addText(g, x, y, text, LABEL_SIZE, { anchor: 'middle', fill: THEME.label });

const styleAxis = (sel: Sel) => {
  sel.selectAll('path, line').attr('stroke', THEME.axis).attr('stroke-width', 1);
  sel.selectAll('text').attr('font-family', FONT).attr('font-size', 16).attr('fill', THEME.tick);
};

const addAxes = (g: Sel, x: any, y: any, xTicks: number[], yTicks: number[], opts: any = {}) => {
  const xAxis = d3.axisBottom(x).tickValues(xTicks).tickSize(-3).tickSizeOuter(0).tickPadding(opts.xPad || 11);
  xAxis.tickFormat(opts.noX ? () => '' : (d: any) => String(d));
  g.append('g').attr('transform', `translate(0,${y.range()[0]})`).call(xAxis).call(styleAxis);
  const yAxis = d3.axisLeft(y).tickValues(yTicks).tickSize(-3).tickSizeOuter(0).tickPadding(opts.yPad || 4);
  yAxis.tickFormat(opts.noY ? () => '' : (d: any) => String(d));
  g.append('g').attr('transform', `translate(${x.range()[0]},0)`).call(yAxis).call(styleAxis);
};

const addArrow = (g: Sel, x1: number, x2: number, y: number, both = true, stroke = '#9a9a9a') => {
  const line = g.append('line')
    .attr('x1', x1).attr('x2', x2).attr('y1', y).attr('y2', y)
    .attr('stroke', stroke).attr('stroke-width', 1)
    .attr('marker-end', 'url(#arrowHead)');
  if (both) line.attr('marker-start', 'url(#arrowHead)');
};

const drawHeatmap = (svg: Sel, box: any, rows: number[][], color: (v: number) => any, cTicks: number[], cDomain: number[], label: string, labelY: number) => {
  const colIdx = d3.range(rows[0].length);
  const rowIdx = d3.range(rows.length);
  const col = d3.scaleBand<number>().domain(colIdx).range([box.left, box.right]);
  const row = d3.scaleBand<number>().domain(rowIdx).range([box.top, box.bottom]);
  const x = d3.scaleLinear().domain([-0.975, -3.025]).range([box.left, box.right]);
  const y = d3.scaleLinear().domain([59.2, 101.2]).range([box.bottom, box.top]);

  svg.append('g').selectAll('rect')
    .data(rows.flatMap((r, i) => r.map((v, j) => ({ v, i, j }))))
    .enter()
    .append('rect')
    .attr('x', d => col(d.j))
    .attr('y', d => row(d.i))
    .attr('width', col.bandwidth() + 0.4)
    .attr('height', row.bandwidth() + 0.4)
    .attr('fill', d => color(d.v));

  // operating point
  svg.append('rect')
    .attr('x', x(-2.8) - 6).attr('y', y(75) - 6.5)
    .attr('width', 12).attr('height', 13)
    .attr('fill', '#231f20');

  addAxes(svg, x, y, saBias, soaCurrent, { xPad: 13, yPad: 2 });
  svg.append('g').attr('transform', `translate(0,${box.top})`)
    .call(d3.axisTop(x).tickValues(saBias).tickSize(-3).tickSizeOuter(0).tickFormat(() => '')).call(styleAxis);
  svg.append('g').attr('transform', `translate(${box.right},0)`)
    .call(d3.axisRight(y).tickValues(soaCurrent).tickSize(-3).tickSizeOuter(0).tickFormat(() => '')).call(styleAxis);

  const mid = (box.left + box.right) / 2;
  addBottomLabel(svg, mid + 8, 314, 'SA bias voltage (V)');
  addVerticalLabel(svg, box.left - 42, 152, 'SOA current (mA)');

  // colour bar
  const c = d3.scaleLinear().domain(cDomain).range([box.bottom, box.top]);
  const barX = box.right + 14;
  const barW = 19;
  const steps = d3.range(box.top, box.bottom, 1);
  svg.append('g').selectAll('rect')
    .data(steps)
    .enter()
    .append('rect')
    .attr('x', barX).attr('y', d => d).attr('width', barW).attr('height', 1.3)
    .attr('fill', d => color(c.invert(d + 0.5)));
  svg.append('rect')
    .attr('x', barX).attr('y', box.top).attr('width', barW).attr('height', box.bottom - box.top)
    .attr('fill', 'none').attr('stroke', THEME.axis);
  const bar = svg.append('g').attr('transform', `translate(${barX + barW},0)`)
    .call(d3.axisRight(c).tickValues(cTicks).tickSize(-3).tickSizeOuter(0).tickPadding(5).tickFormat((d: any) => String(d)))
    .call(styleAxis);
  bar.selectAll('text').attr('font-size', 15.3);
  addVerticalLabel(svg, barX + 65, labelY, label, 16.4);
};

const drawSchematic = (svg: Sel) => {
  const a = svg.append('g');
  const CYAN = '#27aed9';
  const TEAL = '#1f8f8c';
  const DARK = '#2b2b2b';
  const YELLOW = '#f2bd0a';
  const BRICK = '#c4302b';

  const addPath = (d: string, stroke: string, width = 2, fill = 'none') =>
    a.append('path').attr('d', d).attr('stroke', stroke).attr('stroke-width', width).attr('fill', fill);
  const schemText = (x: number, y: number, t: string, size = 20, opts: any = {}) =>
    addText(a, x, y, t, size, { font: SCHEMATIC_FONT, fill: '#333', ...opts });

  // fibre routes
  addPath('M147.5,143 V254.5 H197 V330 H137', CYAN, 2.4);
  addPath('M147.5,164.5 H231 V61 H276', CYAN, 2.4);
  addPath('M231,138 H277', CYAN, 2.4);
  addPath('M147.5,217 H158', CYAN, 2.4);
  addPath('M207,217 H228', CYAN, 2.4);
  addPath('M197,293.5 H228', CYAN, 2.4);

  // instrument boxes and screens
  const boxes = [
    { x: 276, y: 31, w: 123, h: 57, sx: 287, sy: 42.5, sh: 36.5, name: 'PM', tx: 357, ty: 68 },
    { x: 277, y: 108.5, w: 122, h: 56.5, sx: 288, sy: 120, sh: 35.5, name: 'OSA', tx: 350, ty: 145 },
    { x: 277, y: 186, w: 122, h: 56, sx: 288, sy: 198, sh: 35, name: 'ESA', tx: 351, ty: 222 },
    { x: 277, y: 263.5, w: 123, h: 56.5, sx: 288, sy: 275, sh: 36, name: 'RTO', tx: 351, ty: 300 },
  ];
  boxes.forEach(b => {
    a.append('rect').attr('x', b.x).attr('y', b.y).attr('width', b.w).attr('height', b.h).attr('rx', 11)
      .attr('fill', '#fff').attr('stroke', '#666').attr('stroke-width', 2);
    a.append('rect').attr('x', b.sx).attr('y', b.sy).attr('width', 59).attr('height', b.sh).attr('fill', '#2c2e2e');
    schemText(b.tx, b.ty, b.name, 20.5);
  });
  schemText(288.5, 67, '- XX.XX', 15.2, { fill: YELLOW });
  addPath('M295,146.5 H339', YELLOW, 2);
  addPath('M301,146.5 C307,134 313,126.5 319,126.5 C325,126.5 329,134 333,146.5', YELLOW, 0.9);
  addPath('M295,226 H339', YELLOW, 2);
  const esaBars = [209, 212, 212, 211, 211, 210, 210, 212, 210, 210, 212, 217];
  esaBars.forEach((top, i) => addPath(`M${298 + i * 3.45},226 V${top}`, YELLOW, 1.6));
  const wave = d3.line().curve(d3.curveCatmullRom)([[296,300],[301,282],[306,303],[311,282],[316,304],[321,282],[326,304],[331,282],[336,303],[339,284]] as any);
  addPath(wave as string, YELLOW, 1.8);

  // amplifier and detectors
  a.append('polygon').attr('points', '158.5,196 158.5,238 207,217').attr('fill', '#fff').attr('stroke', BRICK).attr('stroke-width', 2);
  addPath('M228,202.5 H240 A12.5,12.5 0 0 1 240,227 H228 Z', '#222', 2.2, '#fff');
  addPath('M228,281.5 H240 A12.5,12.5 0 0 1 240,306 H228 Z', '#222', 2.2, '#fff');
  addPath('M252.5,214.5 H277', '#222', 2.4);
  addPath('M252.5,293.5 H277', '#222', 2.4);
  a.append('rect').attr('x', 202).attr('y', 286).attr('width', 18).attr('height', 15).attr('rx', 3).attr('fill', '#1e1e1e');
  schemText(155, 191, 'EDFA', 19.5);
  schemText(226, 198, 'PD', 20);
  schemText(226, 276, 'PD', 20);
  schemText(106, 278, 'Tunable CW', 19.5, { anchor: 'middle' });
  schemText(106, 303, 'laser', 19.5, { anchor: 'middle' });
  schemText(169, 348, 'FPC', 19.5, { anchor: 'middle' });

  // device under test
  a.append('rect').attr('x', 48.5).attr('y', 82).attr('width', 165).attr('height', 61).attr('rx', 13)
    .attr('fill', '#e6e6e6').attr('stroke', '#ed2733').attr('stroke-width', 2.5);
  schemText(107, 75, 'DUT', 22.5, { fill: '#e8252f' });
  [0, 1, 2, 3, 4].forEach(i => {
    [52, 163.5].forEach(x0 => {
      a.append('rect').attr('x', x0 + i * 1.4).attr('y', 88.5 + i * 1.4)
        .attr('width', 46 - i * 2.8).attr('height', 43 - i * 2.8).attr('rx', 11 - i)
        .attr('fill', 'none').attr('stroke', TEAL).attr('stroke-width', 0.7);
    });
  });
  addPath('M58,110 H84 C93,110 93,97 84,97 M58,110 C58,122 68,126 76,122', TEAL, 0.8);
  addPath('M204,110 H178 C169,110 169,123 178,123 M204,110 C204,98 194,94 186,98', TEAL, 0.8);
  addPath('M98,122 C103,122 102,110 110,110 H149 C158,110 158,122 164,122', TEAL, 0.8);
  addPath('M55,132.5 H206', TEAL, 0.9);
  addPath('M112,138 C116,134 122,136 128,136 L131,133 L134,136 C140,136 146,134 149,138', TEAL, 0.8);
  a.append('rect').attr('x', 111.5).attr('y', 102.5).attr('width', 38).attr('height', 15.5).attr('fill', '#efefef').attr('stroke', '#cfcfcf');
  a.append('rect').attr('x', 112).attr('y', 105).attr('width', 36.5).attr('height', 11).attr('fill', '#c9a42a');
  a.append('rect').attr('x', 118).attr('y', 108).attr('width', 25).attr('height', 1).attr('fill', '#f2e7c0');
  a.append('rect').attr('x', 118).attr('y', 111).attr('width', 5).attr('height', 4).attr('fill', '#f5f5f5');
  a.append('rect').attr('x', 138).attr('y', 111).attr('width', 5).attr('height', 4).attr('fill', '#f5f5f5');

  // bias lines
  a.append('circle').attr('cx', 82).attr('cy', 57).attr('r', 9).attr('fill', 'none').attr('stroke', DARK).attr('stroke-width', 1);
  a.append('circle').attr('cx', 82).attr('cy', 66).attr('r', 9).attr('fill', 'none').attr('stroke', DARK).attr('stroke-width', 1);
  addPath('M82,53 V70', DARK, 1);
  addPath('M79.5,67 L82,71 L84.5,67 Z', DARK, 0.5, DARK);
  addPath('M82,75 V85 H124 V113', DARK, 1.1);
  addPath('M131,114 V161 H88', DARK, 1);
  schemText(51, 41, 'I', 20);
  schemText(56, 45, 'gain', 19.5);
  schemText(65, 172, 'V', 20);
  schemText(79, 176, 'sa', 19.5);

  // CW laser and polarization controller
  a.append('rect').attr('x', 64).attr('y', 309.5).attr('width', 72).attr('height', 35).attr('rx', 8)
    .attr('fill', '#fff').attr('stroke', BRICK).attr('stroke-width', 1.8);
  addPath('M76.7,317 V338 H124', '#1a1a1a', 1.5);
  addPath('M73.7,319 L76.7,314 L79.7,319 Z', '#1a1a1a', 0.5, '#1a1a1a');
  addPath('M122,335 L127,338 L122,341 Z', '#1a1a1a', 0.5, '#1a1a1a');
  addPath('M99,322 V338', BRICK, 1.5);
  [145.5, 161, 176.5].forEach((x0, i) => {
    a.append('rect').attr('x', x0).attr('y', 312.5).attr('width', 16).attr('height', 14.5).attr('fill', '#e4e4e4').attr('stroke', '#888').attr('stroke-width', 0.8);
    a.append('circle').attr('cx', 153.5 + i * 15.5).attr('cy', 320).attr('r', 5.5).attr('fill', '#fff').attr('stroke', '#222').attr('stroke-width', 1);
  });
  addPath('M146,328.6 H192.5 M146,331 H192.5', '#555', 0.8);
};

const drawScope = (svg: Sel) => {
  const x = d3.scaleLinear().domain([0, 7]).range([63, 343]);
  const y = d3.scaleLinear().domain([-0.1, 0.25]).range([612, 395.5]);
  svg.append('path')
    .attr('d', d3.line().x((d: any) => x(d[0])).y((d: any) => y(d[1]))(scopeTrace as any))
    .attr('fill', 'none').attr('stroke', '#6a6a6a').attr('stroke-width', 1.1);
  addAxes(svg, x, y, [0, 2, 4, 6], [-0.1, 0, 0.1, 0.2]);
  addArrow(svg, x(3.56), x(4.84), 446);
  addText(svg, 206, 434, '1.3 ns', 16);
  addVerticalLabel(svg, 22, 497, 'Amplitude (V)');
  addBottomLabel(svg, 207, 658, 'Time (ns)');
};

const drawPulse = (svg: Sel) => {
  const x = d3.scaleLinear().domain([-25, 25]).range([489.3, 774.6]);
  const y = d3.scaleLinear().domain([0, 0.35]).range([612, 395.5]);
  const bars = svg.append('g').selectAll('g').data(acDelay).enter().append('g')
    .attr('stroke', '#a9a9a9').attr('stroke-width', 1.1);
  bars.append('line').attr('x1', d => x(d)).attr('x2', d => x(d))
    .attr('y1', (d, i) => y(acMean[i] - acError[i])).attr('y2', (d, i) => y(acMean[i] + acError[i]));
  bars.append('line').attr('x1', d => x(d) - 2.6).attr('x2', d => x(d) + 2.6)
    .attr('y1', (d, i) => y(acMean[i] - acError[i])).attr('y2', (d, i) => y(acMean[i] - acError[i]));
  bars.append('line').attr('x1', d => x(d) - 2.6).attr('x2', d => x(d) + 2.6)
    .attr('y1', (d, i) => y(acMean[i] + acError[i])).attr('y2', (d, i) => y(acMean[i] + acError[i]));
  svg.append('path')
    .attr('d', d3.line().x((d: any, i) => x(acDelay[i])).y((d: any) => y(d))(acMean as any))
    .attr('fill', 'none').attr('stroke', '#b5b5b5').attr('stroke-width', 1);
  svg.append('path')
    .attr('d', d3.line().curve(d3.curveMonotoneX).x((d: any, i) => x(fitDelay[i])).y((d: any) => y(d))(fitIntensity as any))
    .attr('fill', 'none').attr('stroke', '#ea2f2b').attr('stroke-width', 1.5);
  addAxes(svg, x, y, [-20, -10, 0, 10, 20], [0, 0.1, 0.2, 0.3]);

  svg.append('line').attr('x1', 669).attr('x2', 687).attr('y1', 408).attr('y2', 408)
    .attr('stroke', '#aaa').attr('stroke-dasharray', '6,3');
  addText(svg, 692, 413.5, 'Measurement', 15);
  svg.append('line').attr('x1', 669).attr('x2', 689).attr('y1', 428).attr('y2', 428)
    .attr('stroke', '#ea2f2b').attr('stroke-width', 1.5);
  addText(svg, 691, 435, 'AC sech', 15);
  addText(svg, 748, 429, '2', 11);
  addText(svg, 757, 435, 'fit', 15);
  addText(svg, 507, 604, 'Deconvoluted pulse width: 7.46 ps', 14.4);
  addVerticalLabel(svg, 454, 494, 'Intensity (a.u.)');
  addBottomLabel(svg, 635, 658, 'Time (ps)');
};

const drawComb = (svg: Sel) => {
  const x = d3.scaleLinear().domain([0, 35]).range([909.3, 1207.5]);
  const y = d3.scaleLinear().domain([0, 7]).range([612, 395]);
  svg.append('g').selectAll('line').data(combFreq).enter().append('line')
    .attr('x1', d => x(d)).attr('x2', d => x(d))
    .attr('y1', y(1)).attr('y2', (d, i) => y(combPeak[i]))
    .attr('stroke', '#8fbde6').attr('stroke-width', 1);
  const band = d3.area<number>().x((d, i) => x(noiseFreq[i])).y0((d, i) => y(noiseLower[i])).y1(d => y(d));
  svg.append('g').selectAll('line').data(spurFreq).enter().append('line')
    .attr('x1', d => x(d)).attr('x2', d => x(d))
    .attr('y1', (d, i) => y(spurLow[i])).attr('y2', (d, i) => y(spurHigh[i]))
    .attr('stroke', '#4d94d2').attr('stroke-width', 0.9);
  svg.append('path').attr('d', band(noiseUpper))
    .attr('fill', '#0b6db8').attr('stroke', '#0b6db8').attr('stroke-width', 0.5);
  addAxes(svg, x, y, [0, 10, 20, 30], d3.range(0, 8), { noY: true });
  addVerticalLabel(svg, 899, 493, 'Power (10 dB per div)');
  addBottomLabel(svg, 1063, 658, 'Frequency (GHz)');
};

const drawBeat = (svg: Sel) => {
  const x = d3.scaleLinear().domain([-10, 10]).range([62.3, 360]);
  const y = d3.scaleLinear().domain([0, 5]).range([924.3, 707.7]);
  const left = d3.scaleLinear().domain([0, beatLeft.length - 1]).range([-10, -0.4]);
  const right = d3.scaleLinear().domain([0, beatRight.length - 1]).range([0.4, 10]);
  const points = [
    ...beatLeft.map((v, i) => [left(i), v]),
    ...beatRight.map((v, i) => [right(i), v]),
    ...beatCore,
  ];
  svg.append('g').selectAll('rect').data(points).enter().append('rect')
    .attr('x', d => x(d[0]) - 0.75).attr('y', d => y(d[1]) - 0.75)
    .attr('width', 1.5).attr('height', 1.5).attr('fill', '#868686');
  svg.append('line').attr('x1', x(-10)).attr('x2', x(10)).attr('y1', y(noiseFloor)).attr('y2', y(noiseFloor))
    .attr('stroke', '#1c1c1c').attr('stroke-width', 1);
  svg.append('path')
    .attr('d', d3.line().x((d: any, i) => x(voigtFreq[i])).y((d: any) => y(d))(voigtPower as any))
    .attr('fill', 'none').attr('stroke', '#1171b9').attr('stroke-width', 1.5);
  addAxes(svg, x, y, [-10, -5, 0, 5, 10], [0, 1, 2, 3, 4, 5], { noY: true });

  svg.append('rect').attr('x', 256.5).attr('y', 716).attr('width', 1.5).attr('height', 1.5).attr('fill', '#868686');
  addText(svg, 270, 722, 'Measurement', 15);
  svg.append('line').attr('x1', 247).attr('x2', 268).attr('y1', 736).attr('y2', 736).attr('stroke', '#1171b9').attr('stroke-width', 1.5);
  addText(svg, 270, 742, 'Voigt fit', 15);
  svg.append('line').attr('x1', 247).attr('x2', 268).attr('y1', 756).attr('y2', 756).attr('stroke', '#1c1c1c');
  addText(svg, 270, 761, 'Noise floor', 15);
  addText(svg, 114, 757, '146 kHz', 16);
  addArrow(svg, 188, 207, 752, false, '#222');
  addArrow(svg, 235, 216, 752, false, '#222');
  addVerticalLabel(svg, 53, 806, 'Power (10 dB per div)');
  addBottomLabel(svg, 217, 970, 'Frequency (MHz)');
};

const drawSpectrum = (svg: Sel) => {
  const x = d3.scaleLinear().domain([1578, 1585]).range([489.3, 786.8]);
  const y = d3.scaleLinear().domain([0, 4]).range([925, 708.3]);
  svg.append('path')
    .attr('d', d3.line().x((d: any, i) => x(specWave[i])).y((d: any) => y(d))(specPower as any))
    .attr('fill', 'none').attr('stroke', '#ec2b27').attr('stroke-width', 1.4);
  addAxes(svg, x, y, [1578, 1580, 1582, 1584], [0, 1, 2, 3, 4], { noY: true });
  addArrow(svg, 589, 717.5, 821);
  addText(svg, 660, 818, '3.27 nm', 16.2, { anchor: 'middle' });
  addVerticalLabel(svg, 479, 807, 'Power (5 dB per div)');
  addBottomLabel(svg, 647, 971, 'Wavelength (nm)');
};

const drawLinewidth = (svg: Sel) => {
  const x = d3.scaleLinear().domain([-30, 30]).range([908.7, 1206.7]);
  const y = d3.scaleLinear().domain([0, 4]).range([924.3, 707.3]);
  const left = d3.scaleLinear().domain([0, lineLeft.length - 1]).range([-30, -1]);
  const right = d3.scaleLinear().domain([0, lineRight.length - 1]).range([0.9, 30]);
  const leftB = d3.scaleLinear().domain([0, lineLeftB.length - 1]).range([-29.9, -1.2]);
  const rightB = d3.scaleLinear().domain([0, lineRightB.length - 1]).range([1.1, 29.9]);
  const points = [
    ...lineLeft.map((v, i) => [left(i), v]),
    ...lineRight.map((v, i) => [right(i), v]),
    ...lineLeftB.map((v, i) => [leftB(i), v]),
    ...lineRightB.map((v, i) => [rightB(i), v]),
    ...lineCore,
  ];
  svg.append('g').selectAll('rect').data(points).enter().append('rect')
    .attr('x', d => x(d[0]) - 0.8).attr('y', d => y(d[1]) - 0.8)
    .attr('width', 1.6).attr('height', 1.6).attr('fill', '#5e5e5e');
  addAxes(svg, x, y, [-30, -15, 0, 15, 30], [0, 1, 2, 3, 4], { noY: true });
  addVerticalLabel(svg, 899, 806, 'Power (20 dB per div)');
  addBottomLabel(svg, 1067, 970, 'Offset frequency (kHz)');
};

const panelLetters = [
  ['a', 13, 26], ['b', 436, 25], ['c', 858, 25],
  ['d', 15, 382], ['e', 436, 382], ['f', 864, 382],
  ['g', 17, 697], ['h', 435, 697], ['i', 864, 697],
];

const App = () => {
  const ref = useRef<SVGSVGElement>(null);

  useEffect(() => {
    const svg = d3.select(ref.current);
    svg.selectAll('*').remove();

    svg.append('defs').append('marker')
      .attr('id', 'arrowHead')
      .attr('viewBox', '0 0 10 10')
      .attr('refX', 10).attr('refY', 5)
      .attr('markerUnits', 'userSpaceOnUse')
      .attr('markerWidth', 9).attr('markerHeight', 7)
      .attr('orient', 'auto-start-reverse')
      .append('path')
      .attr('d', 'M0,0 L10,5 L0,10 L3,5 Z')
      .attr('fill', '#111');

    drawSchematic(svg);

    const redColor = d3.scaleLinear<string>().domain(opticalStops).range(opticalColors);
    drawHeatmap(svg, { left: 492, right: 734, top: 52, bottom: 267 }, opticalPower,
      redColor, opticalTicks, [-26.6, 4.24], 'Optical power (dBm)', 149);
    const blueColor = d3.scaleLinear<string>().domain(rfStops).range(rfColors);
    drawHeatmap(svg, { left: 922, right: 1165, top: 52, bottom: 267 }, rfPower,
      blueColor, rfTicks, [-74.5, -27.8], 'RF power (dBm)', 154);

    drawScope(svg);
    drawPulse(svg);
    drawComb(svg);
    drawBeat(svg);
    drawSpectrum(svg);
    drawLinewidth(svg);

    panelLetters.forEach(([t, x, y]) => {
      addText(svg, x as number, y as number, t as string, 21, { weight: 'bold', fill: '#1a1a1a' });
    });
  }, []);

  return (
    <svg
      ref={ref}
      width={WIDTH}
      height={HEIGHT}
      style={{ position: 'absolute', left: 0, top: 0, background: '#fff' }}
    />
  );
};

export default App;
